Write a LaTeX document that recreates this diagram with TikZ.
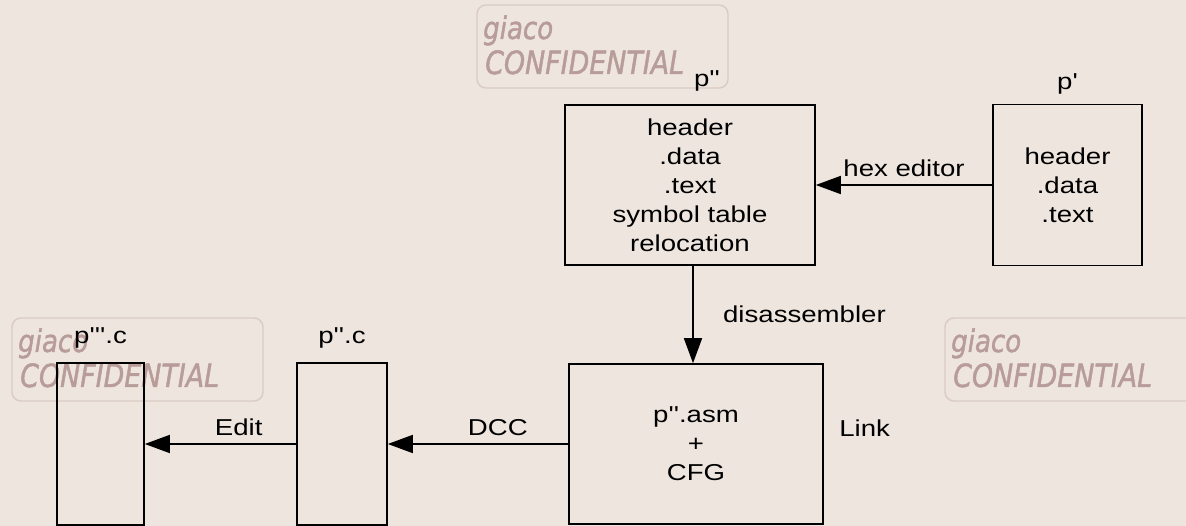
\documentclass[tikz,border=0pt]{standalone}
\usepackage{fontspec}
\setmainfont{Liberation Sans}[FakeStretch=1.2, Ligatures=TeXOff]
\newfontfamily\markfont{DejaVu Sans}[FakeStretch=0.84, FakeBold=1.3]
\usetikzlibrary{arrows.meta,positioning}
\definecolor{paper}{RGB}{238,229,222}
\definecolor{markink}{RGB}{184,156,153}
\definecolor{markline}{RGB}{218,203,197}

\begin{document}
\begin{tikzpicture}[x=1pt, y=-1pt, node distance=10pt,
  every node/.style={font=\fontsize{23}{29}\selectfont},
  box/.style={draw, line width=1.6pt, align=center, inner sep=0pt},
  arr/.style={-{Triangle[length=25pt, width=18pt]}, line width=1.6pt},
  wmbox/.style={draw=markline, line width=1.4pt, rounded corners=9pt},
  wmtext/.style={anchor=base west, inner sep=0pt, text=markink, font=\markfont\itshape\fontsize{32}{32}\selectfont}]
\useasboundingbox (0,0) rectangle (1186,526);
\fill[paper] (0,0) rectangle (1186,526);
% watermarks
\foreach \wx/\wy in {477/5, 12/318, 945/318} {
  \draw[wmbox] (\wx,\wy) rectangle ++(251,83);
  \node[wmtext, font=\markfont\itshape\fontsize{31}{31}\selectfont] (giaco-\wx) at (\wx+6,\wy+34) {giaco};
  \node[wmtext] (conf-\wx) at (\wx+8,\wy+69) {CONFIDENTIAL};
}
% boxes
\node[box, minimum width=250pt, minimum height=160pt] (pdd) at (690,185) {header\\.data\\.text\\symbol table\\relocation};
\node[box, minimum width=149pt, minimum height=161pt] (pp) at (1067.5,185) {header\\.data\\.text};
\node[box, minimum width=254pt, minimum height=160pt] (asm) at (696,444) {p''.asm\\+\\CFG};
\node[box, minimum width=90pt, minimum height=162pt] (pddc) at (342,444) {};
\node[box, minimum width=87pt, minimum height=162pt] (ptc) at (100.5,444) {};
% names
\node[above=9pt of pdd, xshift=17pt] (pddname) {p''};
\node[above=6pt of pp] (ppname) {p'};
\node[above=10pt of pddc] (pddcname) {p''.c};
\node[above=10pt of ptc] (ptcname) {p'''.c};
\node[right=12pt of asm, yshift=16pt] (link) {Link};
% arrows
\draw[arr] (pp.west) -- node[above=4pt] (hexlbl) {hex editor} (pdd.east);
\draw[arr] ([xshift=3pt]pdd.south) -- node[right=26pt] (dislbl) {disassembler} ([xshift=-3pt]asm.north);
\draw[arr] (asm.west) -- node[above=4.5pt, pos=0.39] (dcclbl) {DCC} (pddc.east);
\draw[arr] (pddc.west) -- node[above=4.5pt, pos=0.38] (editlbl) {Edit} (ptc.east);
\end{tikzpicture}
\end{document}
